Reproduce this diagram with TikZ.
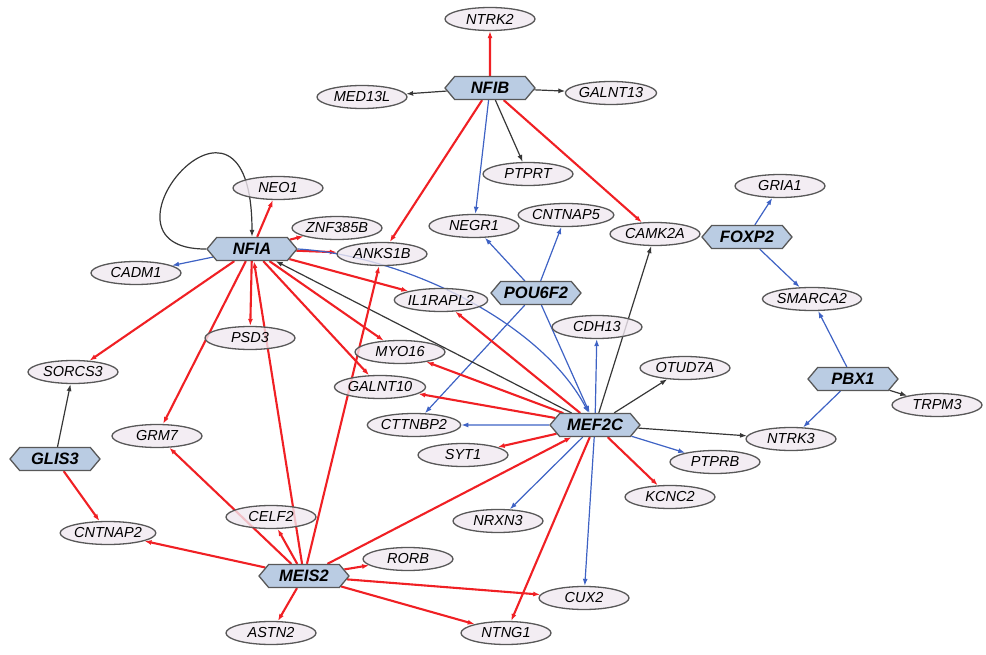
\documentclass[tikz,border=0pt]{standalone}
\usepackage{fontspec}
\setmainfont{Liberation Sans}
\usetikzlibrary{arrows.meta,shapes.geometric,shapes.symbols}

\definecolor{edgered}{RGB}{240,32,36}
\definecolor{edgeblue}{RGB}{62,98,196}
\definecolor{edgegray}{RGB}{55,55,55}
\definecolor{genefill}{RGB}{240,232,240}
\definecolor{tffill}{RGB}{178,198,224}
\definecolor{nodeline}{RGB}{88,88,88}

\pgfdeclarelayer{back}
\pgfsetlayers{back,main}

\tikzset{
	gene/.style={ellipse, draw=nodeline, line width=1.3pt, fill=genefill, fill opacity=0.8, text opacity=1, minimum width=90pt, minimum height=23pt, inner sep=0pt, font=\fontsize{14.5}{16}\selectfont\itshape},
	tf/.style={signal, signal to=west and east, signal pointer angle=100, draw=nodeline, line width=1.3pt, fill=tffill, fill opacity=0.9, text opacity=1, minimum width=90pt, minimum height=23pt, inner sep=1pt, font=\fontsize{16.5}{18}\selectfont\bfseries\itshape},
	rd/.style={draw=edgered, line width=2.1pt, -{Latex[length=7pt,width=5pt]}},
	bl/.style={draw=edgeblue, line width=1.2pt, -{Latex[length=7pt,width=5pt]}},
	gr/.style={draw=edgegray, line width=1.2pt, -{Latex[length=7pt,width=5pt]}},
}

\begin{document}
\begin{tikzpicture}[x=1pt,y=-1pt]
			%%%%% START %%%%%
			\useasboundingbox (0,0) rectangle (986,655);
			
			% regulators
			\node[tf] (nfib) at (490,88) {NFIB};
			\node[tf] (nfia) at (252,249) {NFIA};
			\node[tf] (pou6f2) at (536,293) {POU6F2};
			\node[tf] (foxp2) at (747,237) {FOXP2};
			\node[tf] (pbx1) at (853,379) {PBX1};
			\node[tf] (mef2c) at (595,425) {MEF2C};
			\node[tf] (glis3) at (55,459) {GLIS3};
			\node[tf] (meis2) at (304,576) {MEIS2};
			
			% targets
			\node[gene] (ntrk2) at (490,19) {NTRK2};
			\node[gene] (med13l) at (362,97) {MED13L};
			\node[gene] (galnt13) at (611,93) {GALNT13};
			\node[gene] (ptprt) at (528,174) {PTPRT};
			\node[gene] (neo1) at (278,188) {NEO1};
			\node[gene] (gria1) at (780,186) {GRIA1};
			\node[gene] (znf385b) at (337,228) {ZNF385B};
			\node[gene] (negr1) at (474,226) {NEGR1};
			\node[gene] (cntnap5) at (566,215) {CNTNAP5};
			\node[gene] (camk2a) at (655,234) {CAMK2A};
			\node[gene] (anks1b) at (382,254) {ANKS1B};
			\node[gene] (cadm1) at (136,273) {CADM1};
			\node[gene] (il1rapl2) at (441,300) {IL1RAPL2};
			\node[gene] (smarca2) at (812,299) {SMARCA2};
			\node[gene] (psd3) at (250,338) {PSD3};
			\node[gene] (cdh13) at (597,327) {CDH13};
			\node[gene] (myo16) at (400,352) {MYO16};
			\node[gene] (otud7a) at (685,368) {OTUD7A};
			\node[gene] (sorcs3) at (73,372) {SORCS3};
			\node[gene] (galnt10) at (380,387) {GALNT10};
			\node[gene] (trpm3) at (937,405) {TRPM3};
			\node[gene] (cttnbp2) at (414,425) {CTTNBP2};
			\node[gene] (ntrk3) at (791,439) {NTRK3};
			\node[gene] (grm7) at (157,436) {GRM7};
			\node[gene] (syt1) at (463,455) {SYT1};
			\node[gene] (ptprb) at (715,462) {PTPRB};
			\node[gene] (kcnc2) at (670,497) {KCNC2};
			\node[gene] (nrxn3) at (498,521) {NRXN3};
			\node[gene] (celf2) at (271,517) {CELF2};
			\node[gene] (cntnap2) at (108,533) {CNTNAP2};
			\node[gene] (rorb) at (408,559) {RORB};
			\node[gene] (cux2) at (584,598) {CUX2};
			\node[gene] (astn2) at (271,633) {ASTN2};
			\node[gene] (ntng1) at (506,633) {NTNG1};
			
			\begin{pgfonlayer}{back}
			% NFIB
			\draw[rd] (nfib) -- (ntrk2);
			\draw[gr] (nfib) -- (med13l);
			\draw[gr] (nfib) -- (galnt13);
			\draw[gr] (nfib) -- (ptprt);
			\draw[bl] (nfib) -- (negr1);
			\draw[rd] (nfib) -- (anks1b);
			\draw[rd] (nfib) -- (camk2a);
			
			% NFIA
			\draw[gr] (nfia.west) .. controls (80,250) and (252,45) .. (nfia.north);
			\draw[rd] (nfia) -- (neo1);
			\draw[rd] (nfia) -- (znf385b);
			\draw[rd] (nfia) -- (anks1b);
			\draw[bl] (nfia) -- (cadm1);
			\draw[rd] (nfia) -- (il1rapl2);
			\draw[rd] (nfia) -- (psd3);
			\draw[rd] (nfia) -- (myo16);
			\draw[rd] (nfia) -- (galnt10);
			\draw[rd] (nfia) -- (sorcs3);
			\draw[rd] (nfia) -- (grm7);
			\draw[bl] (nfia.east) .. controls (400,255) and (540,320) .. (mef2c);
			
			% POU6F2, FOXP2, PBX1, GLIS3
			\draw[bl] (pou6f2) -- (negr1);
			\draw[bl] (pou6f2) -- (cntnap5);
			\draw[bl] (pou6f2) -- (cttnbp2);
			\draw[bl] (pou6f2) -- (mef2c);
			\draw[bl] (foxp2) -- (gria1);
			\draw[bl] (foxp2) -- (smarca2);
			\draw[bl] (pbx1) -- (smarca2);
			\draw[bl] (pbx1) -- (ntrk3);
			\draw[gr] (pbx1) -- (trpm3);
			\draw[gr] (glis3) -- (sorcs3);
			\draw[rd] (glis3) -- (cntnap2);
			
			% MEF2C
			\draw[gr] (mef2c) -- (camk2a);
			\draw[gr] (mef2c) -- (otud7a);
			\draw[gr] (mef2c) -- (ntrk3);
			\draw[gr] (mef2c) -- (nfia);
			\draw[bl] (mef2c) -- (cdh13);
			\draw[bl] (mef2c) -- (ptprb);
			\draw[bl] (mef2c) -- (cux2);
			\draw[bl] (mef2c) -- (nrxn3);
			\draw[bl] (mef2c) -- (cttnbp2);
			\draw[rd] (mef2c) -- (kcnc2);
			\draw[rd] (mef2c) -- (syt1);
			\draw[rd] (mef2c) -- (galnt10);
			\draw[rd] (mef2c) -- (myo16);
			\draw[rd] (mef2c) -- (il1rapl2);
			\draw[rd] (mef2c) -- (ntng1);
			
			% MEIS2
			\draw[rd] (meis2) -- (cntnap2);
			\draw[rd] (meis2) -- (grm7);
			\draw[rd] (meis2) -- (celf2);
			\draw[rd] (meis2) -- (nfia);
			\draw[rd] (meis2) -- (anks1b);
			\draw[rd] (meis2) -- (rorb);
			\draw[rd] (meis2) -- (cux2);
			\draw[rd] (meis2) -- (ntng1);
			\draw[rd] (meis2) -- (astn2);
			\draw[rd] (meis2) -- (mef2c);
			\end{pgfonlayer}
			%%%%% END %%%%%
\end{tikzpicture}
\end{document}
